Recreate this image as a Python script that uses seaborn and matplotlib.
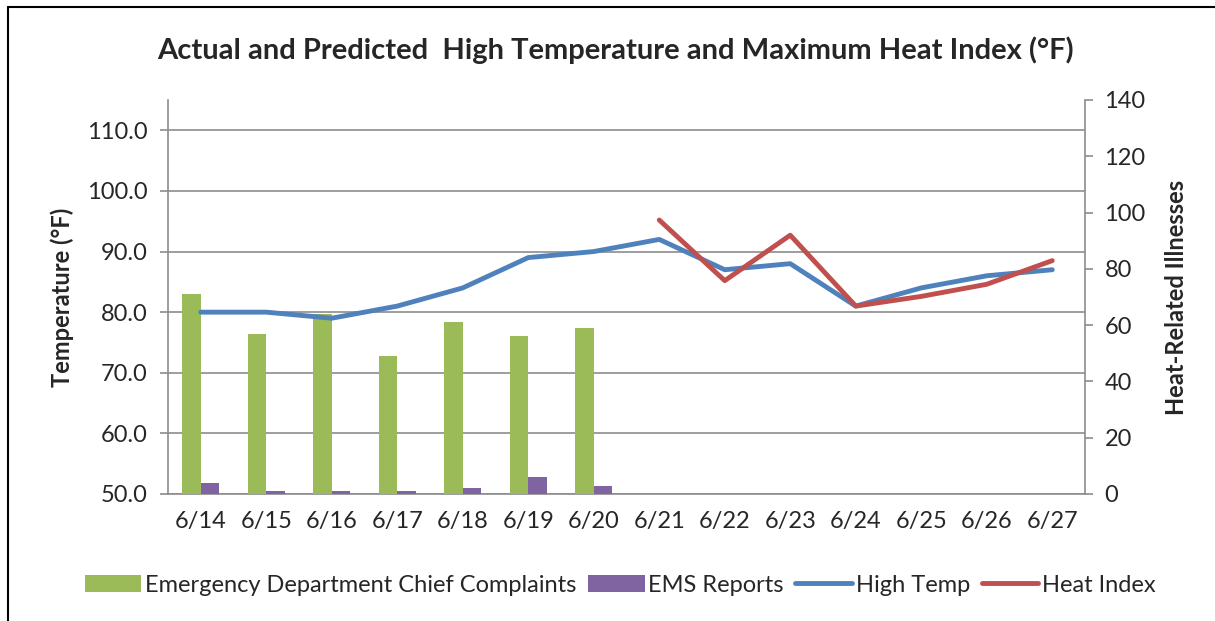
import numpy as np
import pandas as pd
import matplotlib
matplotlib.use("Agg")
import matplotlib.pyplot as plt
from matplotlib.patches import Patch
from matplotlib.lines import Line2D
import seaborn as sns

dates = ["6/14", "6/15", "6/16", "6/17", "6/18", "6/19", "6/20",
         "6/21", "6/22", "6/23", "6/24", "6/25", "6/26", "6/27"]
ed_complaints = [71, 57, 64, 49, 61, 56, 59]
ems_reports = [4, 1, 1, 1, 2, 6, 3]
high_temp = [80, 80, 79, 81, 84, 89, 90, 92, 87, 88, 81, 84, 86, 87]
heat_index = [np.nan] * 7 + [95.2, 85.2, 92.7, 81, 82.6, 84.6, 88.5]

C_GREEN = "#9BBB59"
C_PURPLE = "#8064A2"
C_BLUE = "#4F81BD"
C_RED = "#C0504D"
GRID = "#8C8C8C"
FS = 17

sns.set_style("white")
plt.rcParams["font.family"] = ["Lato", "DejaVu Sans"]

fig = plt.figure(figsize=(12.15, 6.21), dpi=100)
ax = fig.add_axes([168 / 1215, 1 - 494 / 621, (1085 - 168) / 1215, (494 - 100) / 621])
ax2 = ax.twinx()
ax3 = ax.twinx()

# bars (right axis)
bars = pd.DataFrame({
    "date": dates[:7] * 2,
    "value": ed_complaints + ems_reports,
    "series": ["Emergency Department Chief Complaints"] * 7 + ["EMS Reports"] * 7,
})
sns.barplot(data=bars, x="date", y="value", hue="series", order=dates,
            palette=[C_GREEN, C_PURPLE], width=0.57, gap=0, saturation=1,
            ax=ax2, legend=False, linewidth=0)

# lines (temperature scale)
pos = np.arange(len(dates))
lines = pd.DataFrame({
    "pos": np.concatenate([pos, pos]),
    "temp": high_temp + heat_index,
    "series": ["High Temp"] * len(dates) + ["Heat Index"] * len(dates),
}).dropna()
sns.lineplot(data=lines, x="pos", y="temp", hue="series",
             palette={"High Temp": C_BLUE, "Heat Index": C_RED},
             linewidth=3.5, ax=ax3, legend=False, solid_capstyle="round")

for a in (ax, ax3):
    a.set_ylim(50, 115)
ax2.set_ylim(0, 140)
for a in (ax, ax2, ax3):
    a.set_xlim(-0.5, len(dates) - 0.5)

ax3.axis("off")

# left axis
ax.set_yticks(np.arange(50, 111, 10))
ax.set_yticklabels([f"{v:.1f}" for v in np.arange(50, 111, 10)])
ax.yaxis.grid(True, color=GRID, linewidth=1.2)
ax.set_axisbelow(True)
ax.set_xticks(pos)
ax.set_xticklabels(dates)
ax.tick_params(axis="x", length=0, labelsize=FS, pad=12)
ax.tick_params(axis="y", length=6, width=1.2, color=GRID, labelsize=FS, pad=9, left=True)
ax.set_ylabel("Temperature (°F)", fontsize=FS, fontweight="bold", labelpad=9)
ax.set_xlabel("")

# right axis
ax2.set_yticks(np.arange(0, 141, 20))
ax2.tick_params(axis="y", length=6, width=1.2, color=GRID, labelsize=FS, pad=8, right=True)
ax2.set_ylabel("Heat-Related Illnesses", fontsize=FS, fontweight="bold", labelpad=14)
ax2.set_xlabel("")
ax2.tick_params(axis="x", length=0, labelbottom=False)

for a in (ax, ax2):
    for s in a.spines.values():
        s.set_visible(False)
for a, side in ((ax, "left"), (ax, "bottom"), (ax2, "right")):
    a.spines[side].set_visible(True)
    a.spines[side].set_color(GRID)
    a.spines[side].set_linewidth(1.2)
ax2.spines["bottom"].set_visible(False)

fig.suptitle("Actual and Predicted  High Temperature and Maximum Heat Index (°F)",
             x=615 / 1215, y=1 - 50 / 621, va="center", fontsize=21, fontweight="bold")

handles = [
    Patch(facecolor=C_GREEN, edgecolor="none"),
    Patch(facecolor=C_PURPLE, edgecolor="none"),
    Line2D([], [], color=C_BLUE, linewidth=3.5, solid_capstyle="round"),
    Line2D([], [], color=C_RED, linewidth=3.5, solid_capstyle="round"),
]
labels = ["Emergency Department Chief Complaints", "EMS Reports", "High Temp", "Heat Index"]
fig.legend(handles, labels, loc="center", bbox_to_anchor=(620 / 1215, 1 - 585 / 621),
           ncol=4, frameon=False, fontsize=FS, handlelength=2.4, handleheight=0.7,
           handletextpad=0.15, columnspacing=0.5)

# outer frame (top and left edges visible)
fig.add_artist(Line2D([8 / 1215, 8 / 1215], [0, 1 - 7 / 621], transform=fig.transFigure,
                      color="black", linewidth=1.5))
fig.add_artist(Line2D([8 / 1215, 1], [1 - 7 / 621, 1 - 7 / 621], transform=fig.transFigure,
                      color="black", linewidth=1.5))

fig.savefig("out.png", dpi=100)
